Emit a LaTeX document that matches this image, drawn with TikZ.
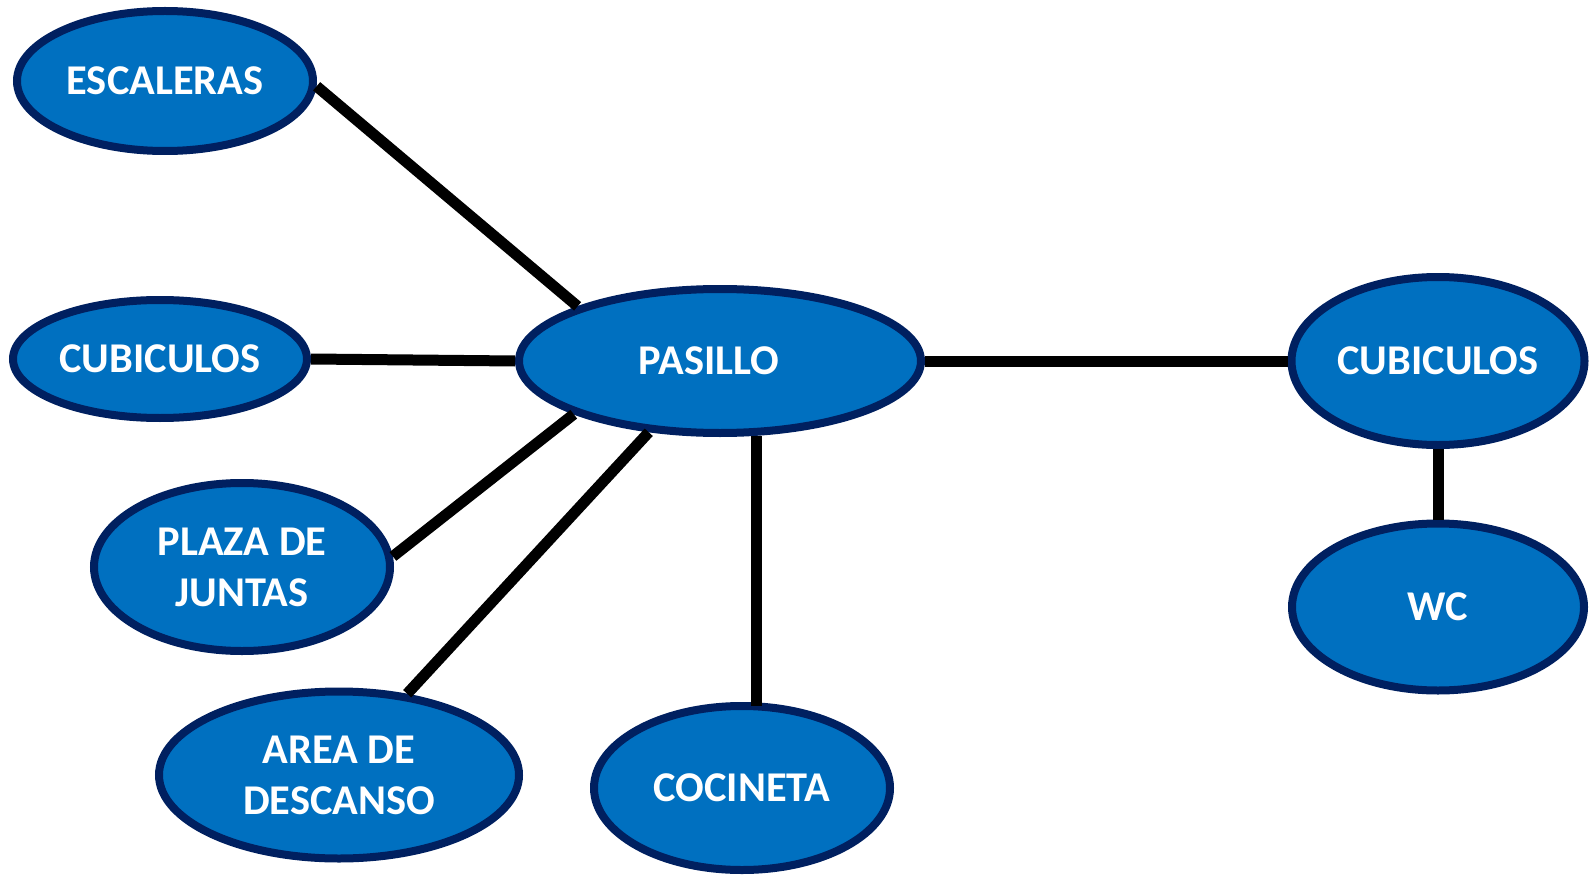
\documentclass[tikz,border=0pt]{standalone}
\usepackage{fontspec}
\setmainfont{Carlito}
\usetikzlibrary{shapes.geometric}
\definecolor{roomfill}{HTML}{0070C0}
\definecolor{roomedge}{HTML}{002060}
\begin{document}
\begin{tikzpicture}[x=0.5pt,y=-0.5pt,
  room/.style={ellipse, draw=roomedge, fill=roomfill, line width=4pt,
    text=white, font=\bfseries\fontsize{21.2}{25.5}\selectfont,
    align=center, inner sep=0pt},
  link/.style={line width=5.5pt, black}]
\useasboundingbox (0,0) rectangle (1589,877);

% rooms
\node[room, minimum width=148pt, minimum height=70pt]   (esc)   at (165,81)   {ESCALERAS};
\node[room, minimum width=201pt, minimum height=72pt]   (pas)   at (720,361)  {\hspace*{-11pt}PASILLO};
\node[room, minimum width=147pt, minimum height=59pt]   (cubl)  at (160,359)  {CUBICULOS};
\node[room, minimum width=146.5pt, minimum height=84pt] (cubr)  at (1438,361) {CUBICULOS};
\node[room, minimum width=146pt, minimum height=83.5pt] (wc)    at (1438,607) {WC};
\node[room, minimum width=148pt, minimum height=84pt]   (plaza) at (242,567)  {PLAZA DE\\JUNTAS};
\node[room, minimum width=180pt, minimum height=83.5pt] (area)  at (339,775)  {AREA DE\\DESCANSO};
\node[room, minimum width=148pt, minimum height=82pt]   (coc)   at (742,788)  {COCINETA};

% connections
\draw[link] (esc.-2) -- (pas.159);
\draw[link] (cubl.east) -- (pas.west);
\draw[link] (pas.east) -- (cubr.west);
\draw[link] (plaza.4) -- (pas.200);
\draw[link] (area.50) -- (pas.225);
\draw[link] (pas.-64) -- ([yshift=-2pt]pas.-64 |- coc.north);
\draw[link] (cubr.south) -- (wc.north);
\end{tikzpicture}
\end{document}
